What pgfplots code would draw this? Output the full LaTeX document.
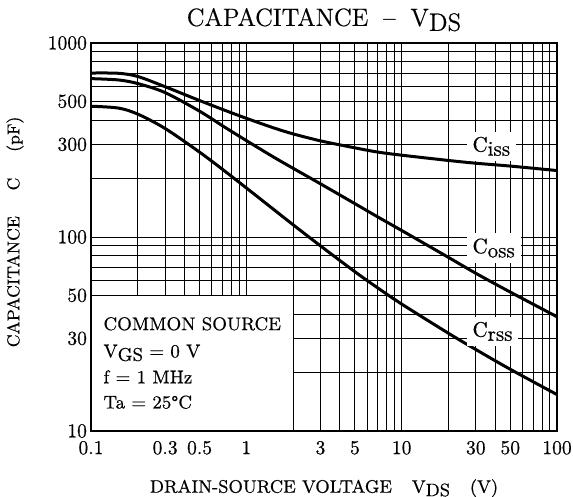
\documentclass[border=0pt]{standalone}
\usepackage{fontspec}
\setmainfont{Latin Modern Roman}[FakeBold=0.5]
\usepackage{pgfplots}
\pgfplotsset{compat=1.18}
% subscripts in this datasheet are full size, only dropped
\newcommand{\low}[1]{\raisebox{-0.45ex}{#1}}

\begin{document}
\begin{tikzpicture}
\begin{axis}[
    scale only axis,
    width=233pt, height=194pt,
    xmode=log, ymode=log,
    xmin=0.1, xmax=100, ymin=10, ymax=1000,
    xtick={0.1,0.3,0.5,1,3,5,10,30,50,100},
    xticklabels={0.1,0.3,0.5,1,3,5,10,30,50,100},
    minor xtick={0.2,0.4,0.6,0.7,0.8,0.9,2,4,6,7,8,9,20,40,60,70,80,90},
    ytick={10,30,50,100,300,500,1000},
    yticklabels={10,30,50,100,300,500,1000},
    minor ytick={20,40,60,70,80,90,200,400,600,700,800,900},
    /pgf/number format/assume math mode=true,
    grid=both,
    major grid style={black, line width=0.45pt},
    minor grid style={black, line width=0.45pt},
    major tick length=0pt, minor tick length=0pt,
    axis line style={line width=1pt},
    tick label style={font=\fontsize{9.8}{11}\selectfont},
    xticklabel style={yshift=-1.5pt},
    yticklabel style={xshift=1.5pt},
    title={CAPACITANCE\hspace{0.6em}--\hspace{0.6em}V\low{DS}},
    title style={at={(0.5,1.013)}, anchor=base, font=\fontsize{12.5}{14}\selectfont},
    xlabel={DRAIN-SOURCE VOLTAGE\hspace{1.1em}V\low{DS}\hspace{1.1em}(V)},
    xlabel style={at={(axis description cs:0.5,-0.159)}, anchor=base, font=\fontsize{9}{10}\selectfont},
    ylabel={CAPACITANCE\hspace{1.5em}C\hspace{1.5em}(pF)},
    ylabel style={at={(axis description cs:-0.163,0.513)}, anchor=center, font=\fontsize{8.6}{10}\selectfont},
]

% Ciss
\addplot[black, line width=1.5pt, smooth] coordinates {
    (0.1,700) (0.15,698) (0.2,672) (0.3,595) (0.5,505) (0.7,455) (1,409)
    (1.5,365) (2,340) (3,313) (5,288) (7,274) (10,264) (20,248) (30,240)
    (50,232) (100,220)
};
% Coss
\addplot[black, line width=1.5pt, smooth] coordinates {
    (0.1,655) (0.15,645) (0.2,618) (0.3,555) (0.5,445) (0.7,375) (1,314)
    (1.5,258) (2,226) (3,188) (5,148.5) (7,127) (10,108) (20,78.5) (30,65)
    (50,52) (100,38.8)
};
% Crss
\addplot[black, line width=1.5pt, smooth] coordinates {
    (0.1,472) (0.15,462) (0.2,430) (0.3,362.5) (0.5,273.7) (0.7,223.6) (1,179)
    (1.5,138.6) (2,115.6) (3,90) (5,66.2) (7,54.7) (10,45.1) (20,31.9) (30,26.3)
    (50,20.8) (100,15.4)
};

% condition box
\fill[white] (axis cs:0.1,10) rectangle (axis cs:2,50);
\draw[line width=0.45pt] (axis cs:2,10) -- (axis cs:2,50) -- (axis cs:0.1,50);
\draw[line width=1pt] (axis cs:0.1,50) -- (axis cs:0.1,10) -- (axis cs:2,10);
\begin{scope}[every node/.style={anchor=base west, inner sep=0pt, font=\fontsize{9.2}{11}\selectfont}]
\node at (rel axis cs:0.026,0.260) {COMMON SOURCE};
\node at (rel axis cs:0.026,0.190) {V\low{GS} = 0 V};
\node at (rel axis cs:0.026,0.123) {f = 1 MHz};
\node at (rel axis cs:0.026,0.058) {Ta = 25°C};
\end{scope}

% curve labels
\begin{scope}[every node/.style={anchor=base west, fill=white, inner xsep=3pt, inner ysep=2.5pt, font=\fontsize{10.5}{12}\selectfont}]
\node at (rel axis cs:0.805,0.720) {C\low{iss}};
\node at (rel axis cs:0.805,0.458) {C\low{oss}};
\node at (rel axis cs:0.805,0.243) {C\low{rss}};
\end{scope}

\coordinate (bbl) at (rel axis cs:-0.1953,-0.1701);
\coordinate (btr) at (rel axis cs:1.0343,1.1108);
\end{axis}
\pgfresetboundingbox
\path[use as bounding box] (bbl) rectangle (btr);
\end{tikzpicture}
\end{document}
